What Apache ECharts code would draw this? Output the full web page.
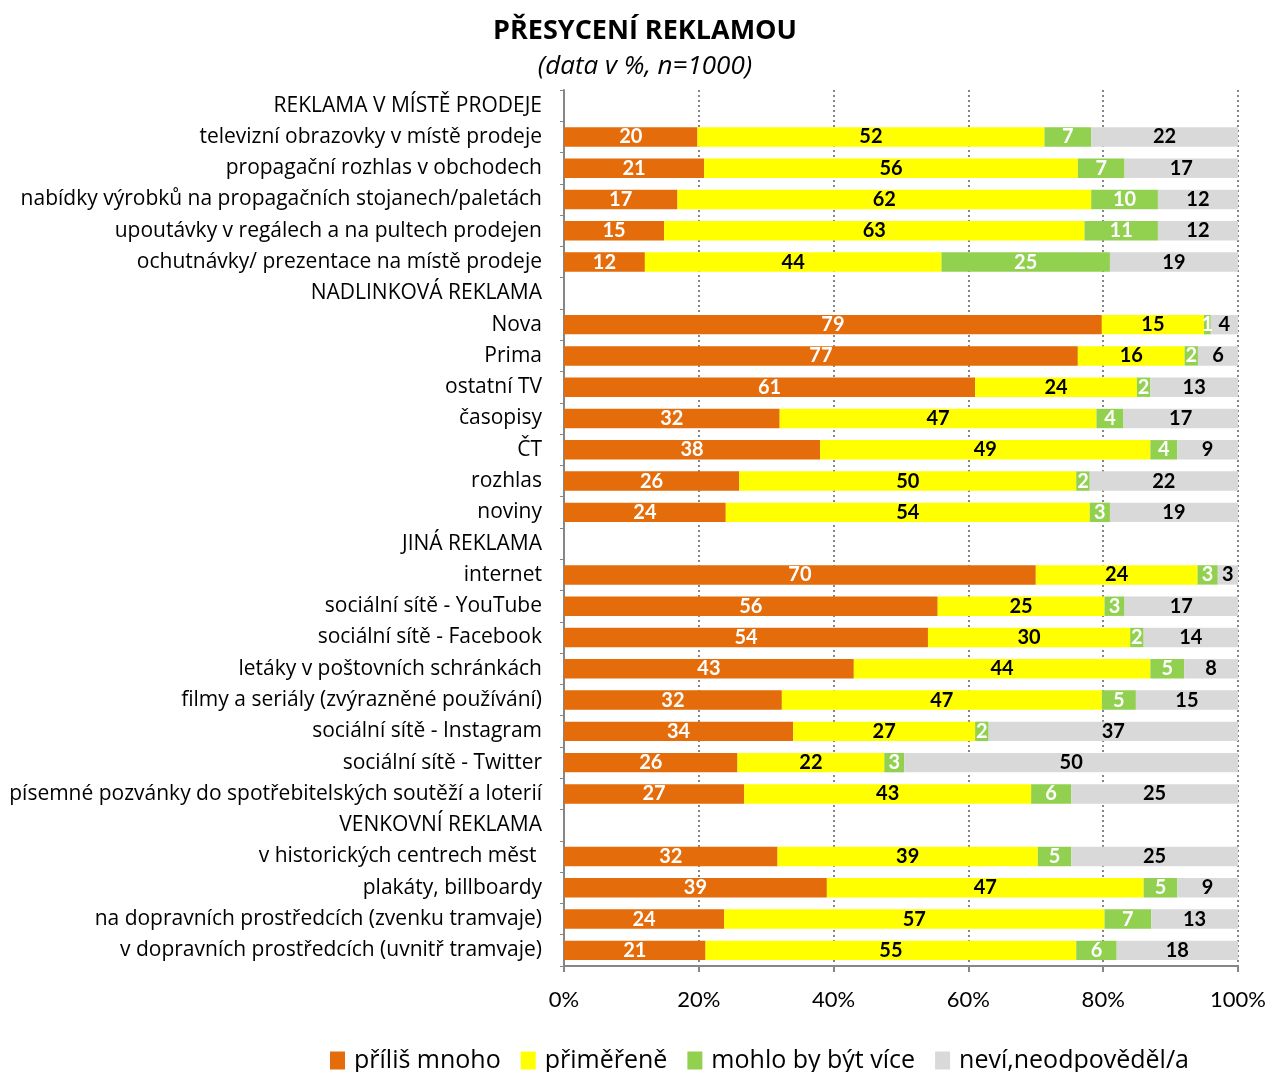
<!DOCTYPE html>
<html>
<head>
<meta charset="utf-8">
<script src="https://cdn.jsdelivr.net/npm/echarts@6/dist/echarts.min.js"></script>
<style>
html,body{margin:0;padding:0;background:#fff;}
#chart{width:1269px;height:1072px;}
</style>
</head>
<body>
<div id="chart"></div>
<script>
const categories = [
  "REKLAMA V MÍSTĚ PRODEJE",
  "televizní obrazovky v místě prodeje",
  "propagační rozhlas v obchodech",
  "nabídky výrobků na propagačních stojanech/paletách",
  "upoutávky v regálech a na pultech prodejen",
  "ochutnávky/ prezentace na místě prodeje",
  "NADLINKOVÁ REKLAMA",
  "Nova",
  "Prima",
  "ostatní TV",
  "časopisy",
  "ČT",
  "rozhlas",
  "noviny",
  "JINÁ REKLAMA",
  "internet",
  "sociální sítě - YouTube",
  "sociální sítě - Facebook",
  "letáky v poštovních schránkách",
  "filmy a seriály (zvýrazněné používání)",
  "sociální sítě - Instagram",
  "sociální sítě - Twitter",
  "písemné pozvánky do spotřebitelských soutěží a loterií",
  "VENKOVNÍ REKLAMA",
  "v historických centrech měst ",
  "plakáty, billboardy",
  "na dopravních prostředcích (zvenku tramvaje)",
  "v dopravních prostředcích (uvnitř tramvaje)"
];
const seriesNames = ["příliš mnoho", "přiměřeně", "mohlo by být více", "neví,neodpověděl/a"];
const tooMuch   = [null,20,21,17,15,12,null,79,77,61,32,38,26,24,null,70,56,54,43,32,34,26,27,null,32,39,24,21];
const adequate  = [null,52,56,62,63,44,null,15,16,24,47,49,50,54,null,24,25,30,44,47,27,22,43,null,39,47,57,55];
const couldMore = [null,7,7,10,11,25,null,1,2,2,4,4,2,3,null,3,3,2,5,5,2,3,6,null,5,5,7,6];
const dontKnow  = [null,22,17,12,12,19,null,4,6,13,17,9,22,19,null,3,17,14,8,15,37,50,25,null,25,9,13,18];
const tickLabels = ["0%","20%","40%","60%","80%","100%"];

const raw = [tooMuch, adequate, couldMore, dontKnow];
const colors = ["#E46C0A", "#FFFF00", "#92D050", "#D9D9D9"];
const labelColors = ["#FFFFFF", "#000000", "#FFFFFF", "#000000"];

// 100% stacked: normalize each row
const totals = categories.map((c, i) => {
  let s = 0; raw.forEach(a => { if (a[i] != null) s += a[i]; }); return s;
});
const font = "Lato, 'Open Sans', sans-serif";
const font2 = "'Open Sans', Lato, sans-serif";

const series = raw.map((arr, k) => ({
  name: seriesNames[k],
  type: 'bar',
  stack: 'total',
  barCategoryGap: '38%',
  itemStyle: { color: colors[k] },
  label: {
    show: true,
    position: 'inside',
    color: labelColors[k],
    fontWeight: 'bold',
    fontSize: 20,
    fontFamily: font,
    formatter: p => arr[p.dataIndex] == null ? '' : String(arr[p.dataIndex])
  },
  emphasis: { disabled: true },
  data: arr.map((v, i) => v == null ? null : v / totals[i] * 100)
}));

const chart = echarts.init(document.getElementById('chart'));
chart.setOption({
  animation: false,
  title: {
    text: 'PŘESYCENÍ REKLAMOU',
    subtext: '(data v %, n=1000)',
    left: 640,
    textAlign: 'center',
    top: 13,
    itemGap: 9,
    textStyle: { fontFamily: font2, fontSize: 27, fontWeight: 'bold', color: '#000' },
    subtextStyle: { fontFamily: font2, fontSize: 26, fontStyle: 'italic', color: '#000' }
  },
  legend: {
    bottom: -6,
    left: 325,
    itemWidth: 15,
    itemHeight: 18,
    itemGap: 20,
    icon: 'rect',
    textStyle: { fontFamily: font2, fontSize: 25, color: '#000', padding: [0,0,0,4] },
    data: seriesNames
  },
  grid: { left: 564, right: 31, top: 90, bottom: 106, containLabel: false },
  xAxis: {
    type: 'value',
    min: 0, max: 100, interval: 20,
    axisLine: { show: true, lineStyle: { color: '#868686', width: 2 } },
    axisTick: { show: true, length: 6, lineStyle: { color: '#868686', width: 2 } },
    axisLabel: { fontFamily: font, fontSize: 22, color: '#000', margin: 23,
      formatter: v => tickLabels[Math.round(v / 20)] },
    splitLine: { show: true, lineStyle: { color: '#868686', type: [2, 3], width: 2 } }
  },
  yAxis: {
    type: 'category',
    inverse: true,
    data: categories,
    axisLine: { show: true, lineStyle: { color: '#868686', width: 2 } },
    axisTick: { show: true, length: 4, lineStyle: { color: '#868686', width: 1 } },
    axisLabel: { fontFamily: font2, fontSize: 21, color: '#000', margin: 22, interval: 0 }
  },
  series: series
});
</script>
</body>
</html>
